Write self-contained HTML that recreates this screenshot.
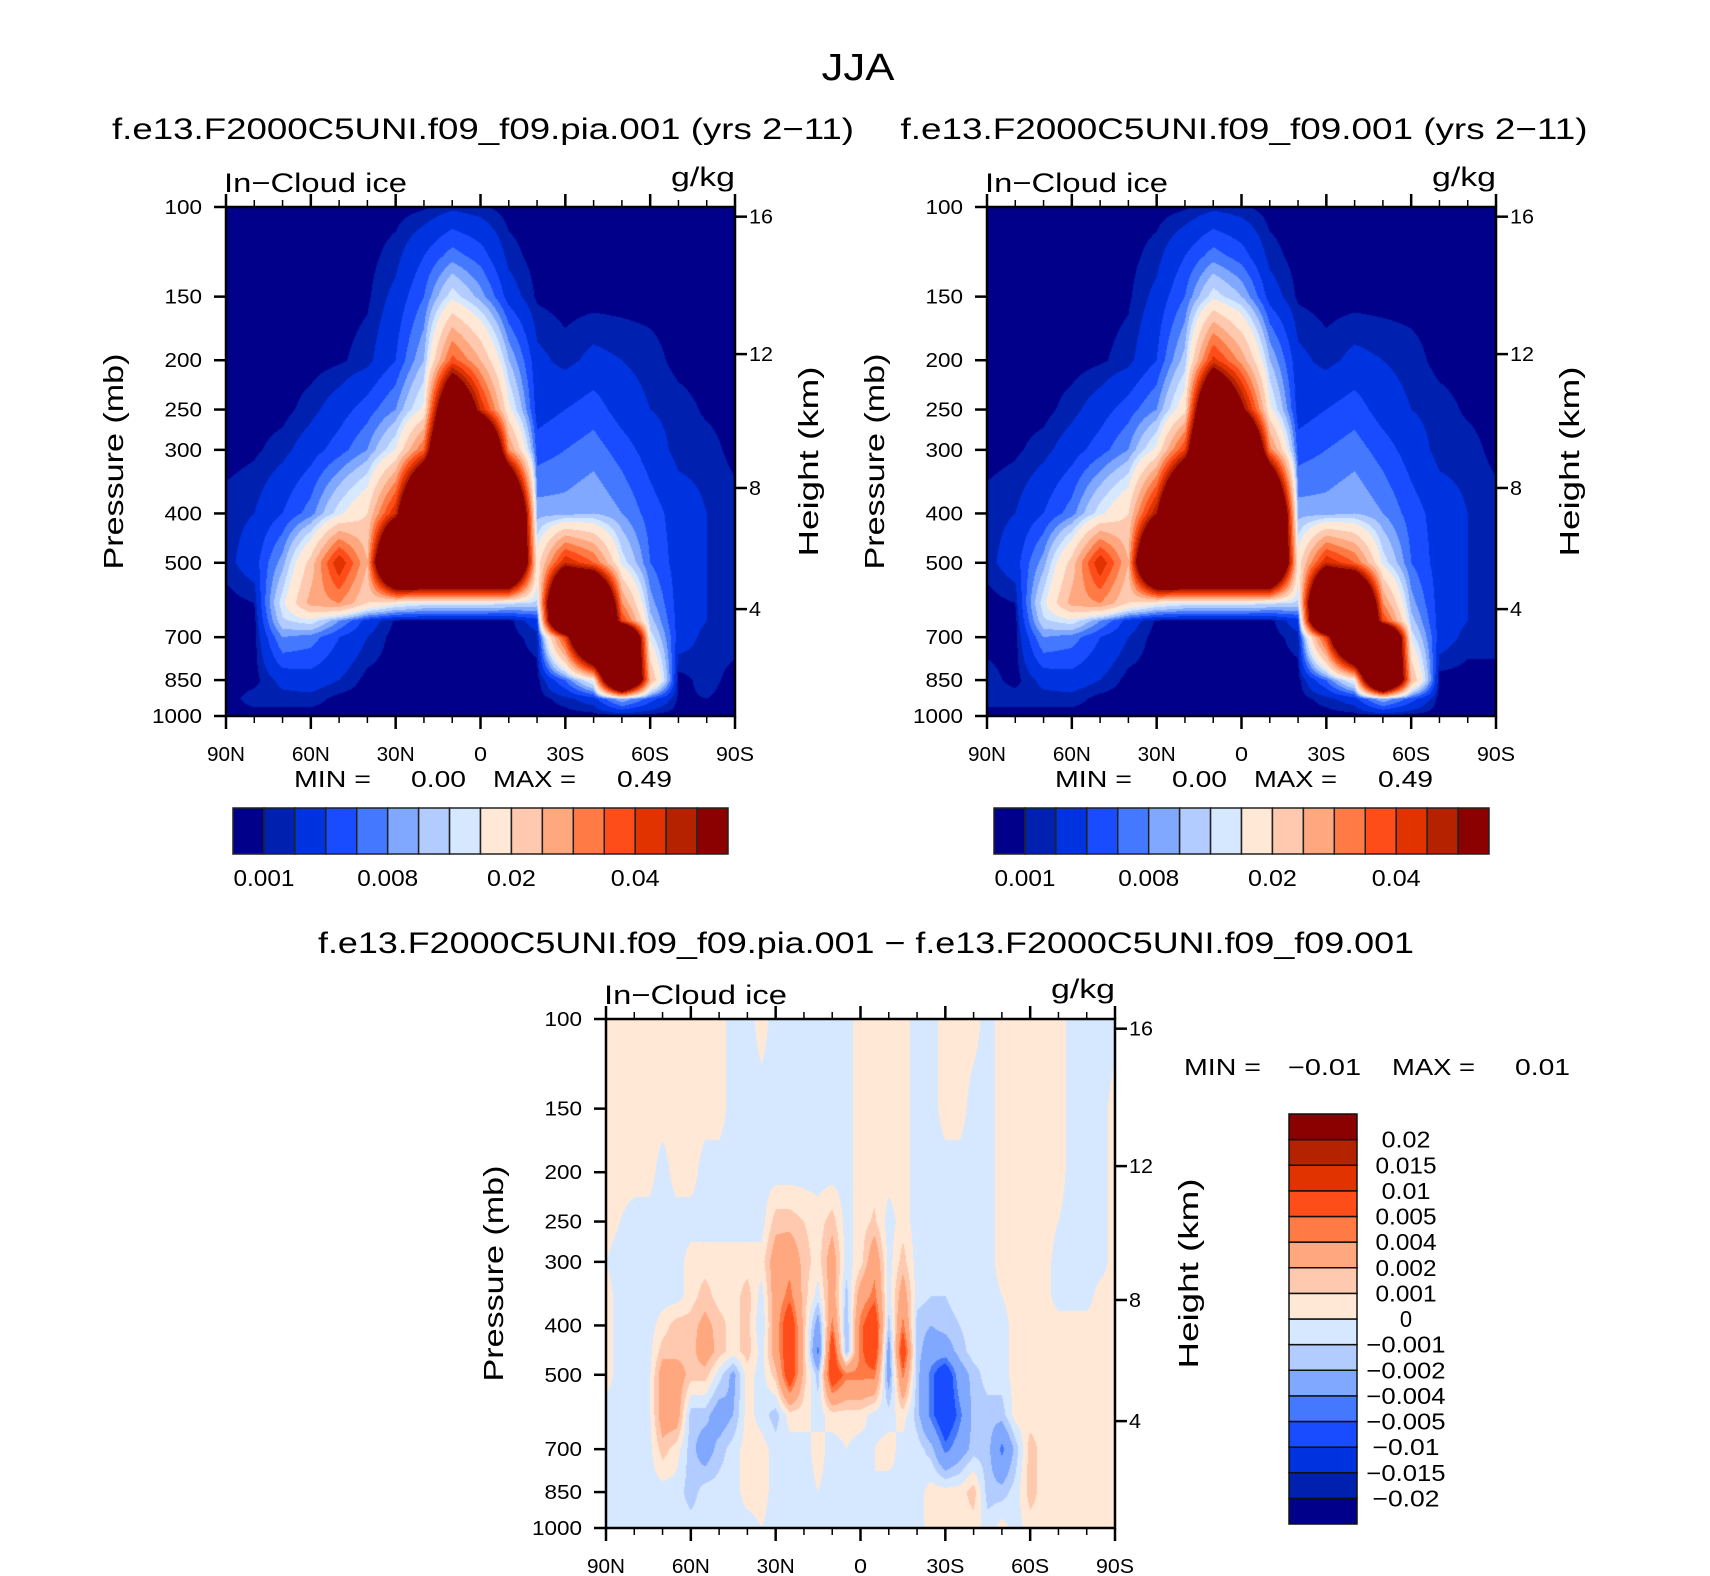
<!DOCTYPE html>
<html><head><meta charset="utf-8"><style>
html,body{margin:0;padding:0;background:#fff;}
#root{position:relative;width:1710px;height:1576px;overflow:hidden;font-family:"Liberation Sans",sans-serif;}
canvas{position:absolute;}
svg{position:absolute;left:0;top:0;}
text{font-family:"Liberation Sans",sans-serif;fill:#000;}
</style></head><body>
<div id="root">
<canvas id="c1"></canvas>
<canvas id="c2"></canvas>
<canvas id="c3"></canvas>
<svg id="ov" width="1710" height="1576"></svg>
</div>
<script>
// ---- data (values in 1e-3 g/kg) ----
const latsTop = [90,80,70,60,50,40,30,20,10,0,-10,-20,-30,-40,-50,-60,-70,-80,-90];
const presTop = [100,125,150,200,250,300,400,500,600,650,700,850,925,1000];
const fieldPia = [
[.5,.5,.5,.5,.5,.5,.5,.8,1.6,1.2,.5,.5,.5,.5,.5,.5,.5,.5,.5],
[.5,.5,.5,.5,.5,.6,1.5,4,7,5,1.5,.5,.5,.5,.5,.5,.5,.5,.5],
[.5,.5,.5,.5,.5,.8,2.5,6,14,9,3,.8,.5,.5,.5,.5,.5,.5,.5],
[.5,.5,.5,.5,.8,1.5,4,10,37,25,10,2.5,1.5,2.5,2,1.5,.6,.5,.5],
[.5,.5,.6,1.5,3,5,8,16,90,45,16,3,4,5,3,2,1.5,.8,.5],
[.5,.8,1.5,3,5,8,15,35,120,120,30,5,6,7,5,3,1.5,1.5,.6],
[1.5,2,4,7,14,20,45,120,120,120,120,9,9,10,8,5,3,2,1.5],
[1.5,3,9,22,45,25,120,120,120,120,120,17,45,35,14,6,3,2,1.5],
[.5,1,14,27,30,20,16,14,14,14,13,12,120,120,30,9,3,2,1],
[.5,.5,12,14,8,3,.8,.6,.6,.6,.6,3,120,120,40,11,3,2,1],
[.5,.5,8,7,4,2,.5,.5,.5,.5,.5,1.5,40,120,120,14,3,1.5,1.5],
[.5,.6,2.5,3,2,.6,.5,.5,.5,.5,.5,.5,6,16,120,25,.5,1.5,.5],
[.5,1.5,1.5,1.5,.6,.5,.5,.5,.5,.5,.5,.5,1.5,3,10,5,.8,1,.5],
[.5,.5,.5,.5,.5,.5,.5,.5,.5,.5,.5,.5,.5,.5,.5,.5,.5,.5,.5]];
const fieldCtl = [
[.5,.5,.5,.5,.5,.5,.5,.8,1.6,1.2,.5,.5,.5,.5,.5,.5,.5,.5,.5],
[.5,.5,.5,.5,.5,.6,1.5,4,7,5,1.5,.5,.5,.5,.5,.5,.5,.5,.5],
[.5,.5,.5,.5,.5,.8,2.5,6,14,10,3,.8,.5,.5,.5,.5,.5,.5,.5],
[.5,.5,.5,.5,.8,1.5,4,11,42,28,10,2.5,1.5,2.5,2,1.5,.6,.5,.5],
[.5,.5,.6,1.5,3,5,8,18,100,55,16,3,4,5,3,2,1.5,.8,.5],
[.5,.8,1.5,3,5,8,16,40,120,120,32,5,6,7,5,3,1.5,1.5,.6],
[1.5,2,4,7,14,20,50,120,120,120,120,9,9,10,8,5,3,2,1.5],
[1.5,3,9,22,45,25,120,120,120,120,120,17,45,35,14,6,3,2,1.5],
[.5,1,14,27,30,20,16,14,14,14,13,12,120,120,30,9,3,2,1],
[.5,.5,12,14,8,3,.8,.6,.6,.6,.6,3,120,120,40,11,3,2,1],
[.5,.5,8,7,4,2,.5,.5,.5,.5,.5,1.5,40,120,120,14,3,1.5,1.5],
[1.5,.6,2.5,3,2,.6,.5,.5,.5,.5,.5,.5,6,16,120,25,.5,.5,.5],
[1.5,1.5,1.5,1.5,.6,.5,.5,.5,.5,.5,.5,.5,1.5,3,10,5,.5,.8,.5],
[.5,.5,.5,.5,.5,.5,.5,.5,.5,.5,.5,.5,.5,.5,.5,.5,.5,.5,.5]];
const latsDiff = [90,85,80,75,70,65,60,55,50,45,40,35,30,25,20,15,10,5,0,-5,-10,-15,-20,-25,-30,-35,-40,-45,-50,-55,-60,-65,-70,-75,-80,-85,-90];
const presDiff = [100,150,200,250,300,350,400,450,500,600,700,850,1000];
const P=.5, B=-.5;
const fieldDiff = [
[P,P,P,P,P,P,P,P,P,B,B,P,B,B,B,B,B,B,P,P,P,P,B,B,P,P,P,B,P,P,P,P,P,B,B,B,B],
[P,P,P,P,P,P,P,P,P,B,B,B,B,B,B,B,B,B,P,P,P,P,B,B,P,P,B,B,P,P,P,P,P,B,B,B,P],
[P,P,P,P,B,P,P,B,B,B,B,B,B,B,B,B,B,B,P,P,P,P,B,B,B,B,B,B,P,P,P,P,P,B,B,B,P],
[P,0,B,B,B,B,B,B,B,B,B,B,1.5,1.5,1,P,1.5,B,P,1.2,B,P,B,B,B,B,B,B,P,P,P,P,0,B,B,B,P],
[0,B,B,B,B,B,P,P,P,P,P,P,3,3.5,1.5,P,3,B,P,3.5,B,1.5,B,B,B,B,B,B,P,P,P,P,B,B,B,B,P],
[P,B,B,B,B,B,P,1.5,P,P,1.5,B,3,4.5,1.5,B,3,-1.5,3,4.5,B,3,B,-1,-1,B,B,B,0,P,P,P,B,B,B,P,P],
[P,B,B,B,P,1.5,1.5,2.5,1.5,P,1.5,-1,3,7,1.5,-3,4.5,-2,4.5,7,-1.5,4.5,-1.5,-2,-1.5,-1,B,B,B,P,P,P,P,P,P,P,P],
[P,B,B,B,1.5,1.5,1.5,3,1.5,P,1.5,B,3,7,1.5,-4.5,7,-2,4.5,7,-3,7,-1.5,-3,-3,-1.5,B,B,B,P,P,P,P,P,P,P,P],
[P,B,B,B,3,3,1.5,1.5,B,-2.5,P,B,1.5,7,1.5,-1.5,7,4.5,4.5,4.5,-3,4.5,-1.5,-4.5,-7,-3,-1.5,B,B,P,P,P,P,P,P,P,P],
[B,B,B,B,3,3,-1.5,-1.5,-3,-2,P,B,-1.5,P,P,B,P,P,P,B,B,P,-1.5,-4.5,-7,-4.5,-1.5,-1.5,-1.5,P,P,P,P,P,P,P,P],
[B,B,B,B,1.5,P,-1.5,-3,-1.5,B,P,P,B,B,B,P,B,0,B,0,P,B,B,-1.5,-4.5,-3,-1.5,-1.5,-4.5,-1.5,1.5,P,P,P,P,P,P],
[B,B,B,B,B,B,-1.5,B,B,B,P,P,B,0,B,0,B,0,B,0,B,0,B,P,P,P,1.5,-1.5,-1.5,B,1.5,P,P,P,P,P,P],
[B,B,B,B,B,B,B,B,B,B,B,0,B,0,B,0,B,0,B,0,B,0,B,P,P,P,P,B,P,B,P,P,P,P,P,P,P]];
const levelsTop = [1,2,4,6,8,10,12.5,15,20,25,30,35,40,45,50];
const levelsDiff = [-20,-15,-10,-5,-4,-2,-1,0,1,2,4,5,10,15,20];
const topBarLabels = ["0.001","0.008","0.02","0.04"];
const topBarLabelIdx = [0,4,8,12];
const diffBarLabels = ["-0.02","-0.015","-0.01","-0.005","-0.004","-0.002","-0.001","0","0.001","0.002","0.004","0.005","0.01","0.015","0.02"];
const presTicks = [100,150,200,250,300,400,500,700,850,1000];
const kmTicks = [16,12,8,4];
const kmFrac = [0.019,0.289,0.552,0.79];
const latTickLabels = ["90N","60N","30N","0","30S","60S","90S"];
const colors = ["#00008a","#0020b0","#0033e0","#1a4cff","#4479ff","#80a8ff","#b3ccff","#d6e8ff","#ffe8d6","#ffc9b0","#ffa87f","#ff7a45","#ff4d1a","#e03300","#b52200","#8b0000"];

function hexRgb(h){return [parseInt(h.slice(1,3),16),parseInt(h.slice(3,5),16),parseInt(h.slice(5,7),16)];}
const rgb = colors.map(hexRgb);
const W=509,H=509;
const plots=[
 {id:'c1',x0:226,y0:207,lats:latsTop,pres:presTop,f:fieldPia,lev:levelsTop},
 {id:'c2',x0:987,y0:207,lats:latsTop,pres:presTop,f:fieldCtl,lev:levelsTop},
 {id:'c3',x0:606,y0:1019,lats:latsDiff,pres:presDiff,f:fieldDiff,lev:levelsDiff}];
function yOfP(p){return Math.log10(p/100);}
function draw(pl){
 const c=document.getElementById(pl.id);c.width=W;c.height=H;c.style.left=pl.x0+'px';c.style.top=pl.y0+'px';
 const ctx=c.getContext('2d');const img=ctx.createImageData(W,H);
 const nl=pl.lats.length, fr=pl.pres.map(yOfP);
 for(let py=0;py<H;py++){
  const fy=(py+.5)/H;let r=0;while(r<fr.length-2&&fr[r+1]<fy)r++;
  const ty=Math.min(1,Math.max(0,(fy-fr[r])/(fr[r+1]-fr[r])));
  for(let px=0;px<W;px++){
   const lat=90-180*(px+.5)/W;
   let k=0;while(k<nl-2&&pl.lats[k+1]>lat)k++;
   const tx=(pl.lats[k]-lat)/(pl.lats[k]-pl.lats[k+1]);
   const v=(1-ty)*((1-tx)*pl.f[r][k]+tx*pl.f[r][k+1])+ty*((1-tx)*pl.f[r+1][k]+tx*pl.f[r+1][k+1]);
   let ci=0;while(ci<pl.lev.length&&v>=pl.lev[ci])ci++;
   const o=(py*W+px)*4,col=rgb[ci];img.data[o]=col[0];img.data[o+1]=col[1];img.data[o+2]=col[2];img.data[o+3]=255;
  }}
 ctx.putImageData(img,0,0);
}
plots.forEach(draw);

const NS='http://www.w3.org/2000/svg';const ov=document.getElementById('ov');
function el(tag,attrs,txt){const e=document.createElementNS(NS,tag);for(const k in attrs)e.setAttribute(k,attrs[k]);if(txt!==undefined)e.textContent=txt;ov.appendChild(e);return e;}
function line(x1,y1,x2,y2,w,name){const e=el('line',{x1:x1,y1:y1,x2:x2,y2:y2,stroke:'#000','stroke-width':w});
 
 return e;}
function txt(x,y,s,size,anchor,name,extra){const e=el('text',Object.assign({x:x,y:y,'font-size':size,'text-anchor':anchor||'start'},extra||{}),s);
 
 return e;}
function TL(n){return {textLength:n,lengthAdjust:'spacingAndGlyphs'};}
function fmtMinus(s){return s.replace(/^-/,'\u2212');}

function axes(pl,idx){
 const x0=pl.x0,y0=pl.y0,x1=x0+W,y1=y0+H;
 const fr=el('rect',{x:x0,y:y0,width:W,height:H,fill:'none',stroke:'#000','stroke-width':2.5});
 
 
 presTicks.forEach(p=>{const y=y0+H*yOfP(p);line(x0-12,y,x0,y,2.5,'pressure-tick');txt(x0-24,y+7,String(p),20,'end','pressure-tick-label',TL(String(p).length*12.5));});
 kmTicks.forEach((k,i)=>{const y=y0+H*kmFrac[i];line(x1,y,x1+12,y,2.5,'height-tick');txt(x1+14,y+7,String(k),20,'start','height-tick-label',TL(String(k).length*12));});
 for(let lat=90;lat>=-90;lat-=10){const x=x0+W*(90-lat)/180;const maj=(lat%30===0);
  line(x,y0-(maj?13:7),x,y0,maj?2.5:1.5,'lat-tick-top');line(x,y1,x,y1+(maj?13:7),maj?2.5:1.5,'lat-tick-bottom');}
 latTickLabels.forEach((s,i)=>{const x=x0+W*i/6;txt(x,y1+45,s,20,'middle','lat-tick-label',TL(s.length===1?13:38));});
 txt(x0-2,y0-15,'In\u2212Cloud ice',27,'start','field-label',TL(183));
 txt(x1,y0-21,'g/kg',27,'end','units-label',TL(64));
 const cy=y0+H/2;
 txt(x0-103,cy,'Pressure (mb)',28,'middle','y-axis-title',Object.assign({transform:'rotate(-90 '+(x0-103)+' '+cy+')'},TL(216)));
 txt(x1+83,cy,'Height (km)',28,'middle','right-axis-title',Object.assign({transform:'rotate(-90 '+(x1+83)+' '+cy+')'},TL(190)));
}
plots.forEach(axes);

txt(858,80,'JJA',38,'middle','figure-title',TL(73));
txt(483,139,'f.e13.F2000C5UNI.f09_f09.pia.001 (yrs 2\u221211)',30,'middle','left-plot-title',TL(742));
txt(1244,139,'f.e13.F2000C5UNI.f09_f09.001 (yrs 2\u221211)',30,'middle','right-plot-title',TL(687));
txt(866,953,'f.e13.F2000C5UNI.f09_f09.pia.001 \u2212 f.e13.F2000C5UNI.f09_f09.001',30,'middle','difference-plot-title',TL(1096));

[0,761].forEach(dx=>{
 txt(294+dx,787,'MIN  =',23,'start','min-label',TL(77));txt(411+dx,787,'0.00',23,'start','min-value',TL(55));
 txt(493+dx,787,'MAX  =',23,'start','max-label',TL(83));txt(617+dx,787,'0.49',23,'start','max-value',TL(55));
 const bx=233+dx,bw=495/16;
 colors.forEach((c,i)=>{const r=el('rect',{x:bx+i*bw,y:808,width:bw,height:46,fill:c,stroke:'#222','stroke-width':1.5});
  
  });
 topBarLabels.forEach((s,i)=>txt(bx+bw*(topBarLabelIdx[i]+1),886,s,23,'middle','colorbar-label',TL(s.length*12.2)));
});
txt(1184,1075,'MIN  =',23,'start','diff-min-label',TL(77));txt(1288,1075,'\u22120.01',23,'start','diff-min-value',TL(73));
txt(1392,1075,'MAX  =',23,'start','diff-max-label',TL(83));txt(1515,1075,'0.01',23,'start','diff-max-value',TL(55));
const vbh=410/16;
colors.forEach((c,i)=>{const r=el('rect',{x:1289,y:1114+(15-i)*vbh,width:68,height:vbh,fill:c,stroke:'#111','stroke-width':1.5});
 
 });
diffBarLabels.forEach((s,i)=>txt(1406,1114+(15-i)*vbh+8,fmtMinus(s),23,'middle','diff-colorbar-label',TL(s.length*12.2+(s[0]==='-'?6:0))));
</script>
</body></html>
